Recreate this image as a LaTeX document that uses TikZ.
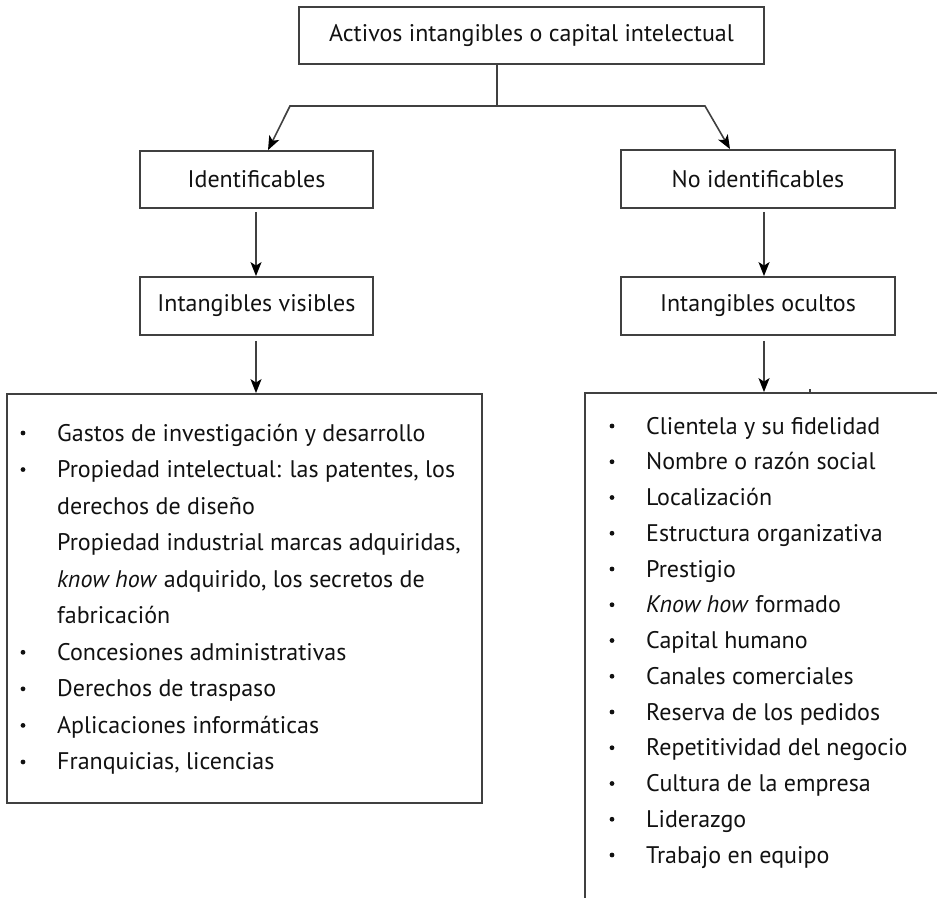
\documentclass[tikz,border=0pt]{standalone}
\usepackage{fontspec}
\setmainfont{PT Sans}
\usetikzlibrary{arrows.meta}
\definecolor{ln}{HTML}{404040}
\definecolor{tx}{HTML}{111111}
\begin{document}
\begin{tikzpicture}[x=1pt,y=-1pt,
  box/.style={draw=ln, line width=1.8pt, inner sep=0pt, font=\fontsize{24}{28}\selectfont, text=tx},
  conn/.style={draw=ln, line width=1.6pt},
  arr/.style={conn, -{Stealth[length=14pt,width=11pt,inset=3.5pt,color=black]}},
  item/.style={anchor=base west, inner sep=0pt, font=\fontsize{24}{28}\selectfont, text=tx},
  bul/.style={circle, fill=tx, inner sep=0pt, minimum size=4.8pt}]
\useasboundingbox (0,0) rectangle (937,897);
\clip (0,0) rectangle (937,897);
% boxes
\node[box, minimum width=465pt, minimum height=57pt] (top) at (531.5,35.5) {Activos intangibles o capital intelectual};
\node[box, minimum width=233pt, minimum height=57pt] (ident) at (256.5,179.5) {Identificables};
\node[box, minimum width=233pt, minimum height=58pt] (vis) at (256.5,306) {Intangibles visibles};
\node[box, minimum width=274pt, minimum height=58pt] (noid) at (758,179) {No identificables};
\node[box, minimum width=274pt, minimum height=58pt] (oc) at (758,306) {Intangibles ocultos};
\node[box, minimum width=475pt, minimum height=409pt] (llist) at (244.5,598.5) {};
\node[box, minimum width=375pt, minimum height=527pt] (rlist) at (772.5,656.5) {};
% connectors
\coordinate (j) at (497,106);
\coordinate (jl) at (290,106);
\coordinate (jr) at (705,106);
\coordinate (al) at (268,0);
\coordinate (ar) at (730,0);
\coordinate (lx) at (256,0);
\coordinate (rx) at (764,0);
\draw[conn] (j |- top.south) -- (j);
\draw[arr] (j) -- (jl) -- (al |- ident.north);
\draw[arr] (j) -- (jr) -- (ar |- noid.north);
\draw[arr, shorten <=3pt] (lx |- ident.south) -- (lx |- vis.north);
\draw[arr, shorten <=5pt] (lx |- vis.south) -- (lx |- llist.north);
\draw[arr, shorten <=3pt] (rx |- noid.south) -- (rx |- oc.north);
\draw[arr, shorten <=5pt] (rx |- oc.south) -- (rx |- rlist.north);
\coordinate (tick) at (810,389);
\draw[conn] (tick) -- (tick |- rlist.north);
% left list
\foreach [count=\i from 0] \b/\t in {1/{Gastos de investigación y desarrollo},
  1/{Propiedad intelectual: las patentes, los},
  0/{derechos de diseño},
  0/{Propiedad industrial marcas adquiridas,},
  0/{\textit{know how} adquirido, los secretos de},
  0/{fabricación},
  1/{Concesiones administrativas},
  1/{Derechos de traspaso},
  1/{Aplicaciones informáticas},
  1/{Franquicias, licencias}} {
  \node[item] (L\i) at (57,{441+36.55*\i}) {\t};
  \ifnum\b=1 \node[bul] (LB\i) at (23,{433+36.55*\i}) {}; \fi
}
% right list
\foreach [count=\i from 0] \t in {Clientela y su fidelidad,
  Nombre o razón social,
  Localización,
  Estructura organizativa,
  Prestigio,
  \textit{Know how} formado,
  Capital humano,
  Canales comerciales,
  Reserva de los pedidos,
  Repetitividad del negocio,
  Cultura de la empresa,
  Liderazgo,
  Trabajo en equipo} {
  \node[item] (R\i) at (646,{434+35.75*\i}) {\t};
  \node[bul] (RB\i) at (612,{426+35.75*\i}) {};
}
\end{tikzpicture}
\end{document}
